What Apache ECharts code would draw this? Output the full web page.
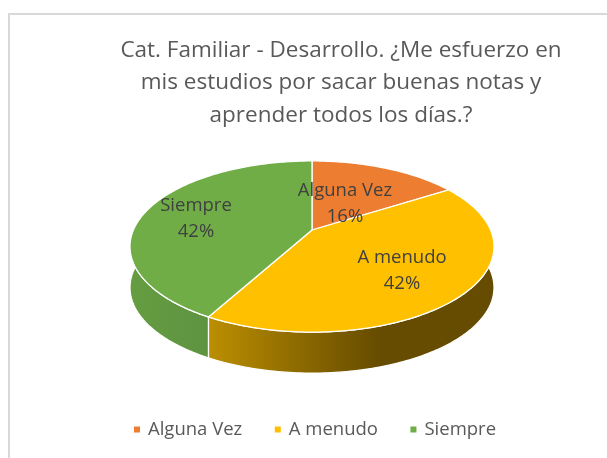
<!DOCTYPE html>
<html>
<head>
<meta charset="utf-8">
<script src="https://cdn.jsdelivr.net/npm/echarts@6/dist/echarts.min.js"></script>
<style>
  html, body { margin: 0; padding: 0; background: #fff; }
  #chart { width: 607px; height: 458px; }
</style>
</head>
<body>
<div id="chart"></div>
<script>
// data
const categories = ['Alguna Vez', 'A menudo', 'Siempre']
const values = [16, 42, 42]
const colors = ['#ED7D31', '#FFC000', '#70AD47']
const titleLines = [
  'Cat. Familiar - Desarrollo. ¿Me esfuerzo en',
  'mis estudios por sacar buenas notas y',
  'aprender todos los días.?'
]

// layout of the tilted disc (perspective projection of a circle)
const APEX_X = 312
const APEX_Y = 230
const RX = 178.6
const RY = 82.4
const PERSPECTIVE = 0.193
const DEPTH = 41
const FONT = '"Open Sans", sans-serif'
const labelCenters = [[345, 204], [402, 271], [196, 219]]
const sideGradients = [
  null,
  [[0, '#BC8F00'], [0.45, '#7A5B00'], [0.6, '#664C00'], [1, '#664C00']],
  [[0, '#659D41'], [0.55, '#5C9040'], [1, '#4E7A33']]
]

const total = values.reduce((a, b) => a + b, 0)
const starts = values.map((v, i) => values.slice(0, i).reduce((a, b) => a + b, 0))

function project (fraction, offsetY) {
  const t = fraction * 2 * Math.PI
  const u = Math.sin(t)
  const v = Math.cos(t)
  const d = 1 + PERSPECTIVE * v
  return [APEX_X + RX * u / d, APEX_Y - RY * v / d + (offsetY || 0)]
}

function arcPoints (from, to, offsetY) {
  const pts = []
  const steps = Math.max(2, Math.ceil((to - from) * 360))
  for (let i = 0; i <= steps; i++) {
    pts.push(project(from + (to - from) * i / steps, offsetY))
  }
  return pts
}

function renderSlice (params, api) {
  const from = api.value(0) / total
  const to = from + api.value(1) / total
  const i = params.seriesIndex
  const children = []
  if (sideGradients[i]) {
    const top = arcPoints(from, to, 0)
    const bottom = arcPoints(from, to, DEPTH).reverse()
    children.push({
      type: 'polygon',
      z2: 1,
      shape: { points: top.concat(bottom) },
      style: {
        fill: { type: 'linear', x: 0, y: 0, x2: 1, y2: 0, colorStops: sideGradients[i].map(s => ({ offset: s[0], color: s[1] })) },
        stroke: '#fff',
        lineWidth: 1.3
      }
    })
  }
  children.push({
    type: 'polygon',
    z2: 2,
    shape: { points: [[APEX_X, APEX_Y]].concat(arcPoints(from, to, 0)) },
    style: { fill: colors[i], stroke: '#fff', lineWidth: 1.3 }
  })
  children.push({
    type: 'text',
    z2: 3,
    style: {
      text: categories[i] + '\n' + Math.round(api.value(1) / total * 100) + '%',
      x: labelCenters[i][0],
      y: labelCenters[i][1],
      align: 'center',
      verticalAlign: 'middle',
      fill: '#404040',
      font: '18.5px ' + FONT,
      lineHeight: 26
    }
  })
  return { type: 'group', children }
}

const chart = echarts.init(document.getElementById('chart'), null, { renderer: 'canvas' })
chart.setOption({
  animation: false,
  backgroundColor: '#fff',
  title: {
    text: titleLines.join('\n'),
    left: 336,
    top: 29,
    textAlign: 'center',
    textStyle: {
      fontFamily: FONT,
      fontSize: 22.5,
      fontWeight: 'normal',
      color: '#595959',
      lineHeight: 32.5
    }
  },
  legend: {
    data: categories,
    left: 129,
    top: 415,
    icon: 'rect',
    itemWidth: 6,
    itemHeight: 6,
    itemGap: 32.5,
    selectedMode: false,
    textStyle: {
      fontFamily: FONT,
      fontSize: 18.5,
      color: '#595959',
      padding: [0, 0, 0, 3]
    }
  },
  graphic: [{
    type: 'polyline',
    silent: true,
    shape: { points: [[9, 458], [9, 14], [607, 14]] },
    style: { fill: 'none', stroke: '#D9D9D9', lineWidth: 2 }
  }],
  series: categories.map((name, i) => ({
    type: 'custom',
    name,
    coordinateSystem: 'none',
    itemStyle: { color: colors[i] },
    renderItem: renderSlice,
    silent: true,
    data: [[starts[i], values[i]]]
  }))
})
</script>
</body>
</html>
